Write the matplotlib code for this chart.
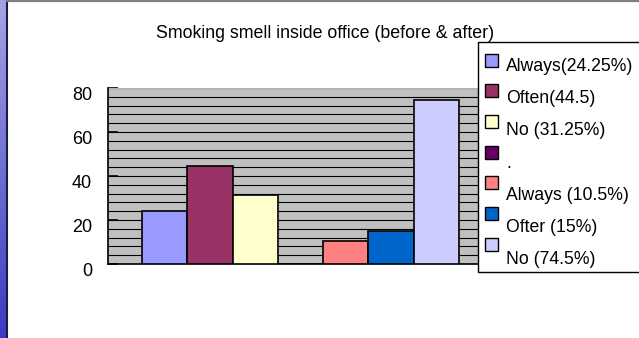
import numpy as np
import matplotlib
matplotlib.use('Agg')
import matplotlib.pyplot as plt
import matplotlib.transforms as mtransforms
from matplotlib.patches import Rectangle
from matplotlib.lines import Line2D

plt.rcParams['font.family'] = ['Liberation Sans', 'DejaVu Sans']

# Survey answers: before (first three) and after (last three), one spacer series
labels = ['Always(24.25%)', 'Often(44.5)', 'No (31.25%)', '.',
          'Always (10.5%)', 'Ofter (15%)', 'No (74.5%)']
values = [24.25, 44.5, 31.25, 0, 10.5, 15, 74.5]
colors = ['#9999FF', '#993366', '#FFFFCC', '#660066',
          '#FF8080', '#0066CC', '#CCCCFF']
yticks = [0, 20, 40, 60, 80]
title = 'Smoking smell inside office (before & after)'

W, H = 639, 338
fig = plt.figure(figsize=(W / 100, H / 100), dpi=100)


def fx(px):
    return px / W


def fy(py):
    return 1 - py / H


# slide decoration: blue gradient strip on the left, grey rule on top
strip = fig.add_axes([0, 0, fx(6), 1])
grad = np.linspace(0, 1, 256).reshape(-1, 1)
cmap = matplotlib.colors.LinearSegmentedColormap.from_list('strip', ['#A4A4E4', '#3A3AC2'])
strip.imshow(grad, aspect='auto', cmap=cmap, extent=[0, 1, 0, 1], origin='upper')
strip.axis('off')
fig.add_artist(Line2D([fx(6.5), fx(6.5)], [0, 1], color='#1c1c40', linewidth=1.5))
fig.add_artist(Line2D([fx(7), 1], [fy(1), fy(1)], color='#808080', linewidth=1.6))

# chart area
ax = fig.add_axes([fx(108), fy(264), fx(493) - fx(108), fy(88) - fy(264)])
ax.set_facecolor('#C0C0C0')
pos = np.arange(len(values)) - (len(values) - 1) / 2
ax.bar(pos, values, width=1.0, color=colors, edgecolor='black', linewidth=1.2, zorder=3)
ax.set_xlim(-4.25, 4.25)
ax.set_ylim(0, 80)
ax.set_xticks([])
ax.set_yticks(yticks)
ax.set_yticks(np.arange(0, 81, 4), minor=True)
ax.yaxis.grid(True, which='both', color='black', linewidth=0.8, zorder=1)
ax.set_axisbelow(True)
ax.tick_params(axis='y', which='major', direction='in', length=7, width=1.2,
               labelleft=False)
ax.tick_params(axis='y', which='minor', length=0)
for s in ['top', 'right']:
    ax.spines[s].set_visible(False)
ax.spines['left'].set_linewidth(1.2)
ax.spines['bottom'].set_linewidth(1.2)
ax.axhline(80, color='#d8d8d8', linewidth=1.2, zorder=2)

# y labels sit a little below their tick lines
lab_trans = mtransforms.offset_copy(
    mtransforms.blended_transform_factory(ax.transAxes, ax.transData),
    fig=fig, x=-16, y=-8, units='dots')
for v in yticks:
    ax.text(0, v, str(v), transform=lab_trans, ha='right', va='center', fontsize=13)

fig.text(fx(325), fy(33), title, ha='center', va='center', fontsize=12.8)

# legend box drawn by hand, running off the right edge
fig.add_artist(Rectangle((fx(478), fy(272)), fx(680) - fx(478), fy(42) - fy(272),
                         transform=fig.transFigure, facecolor='white',
                         edgecolor='black', linewidth=1, zorder=5))
for i, (lab, c) in enumerate(zip(labels, colors)):
    my = 60 + 30.7 * i
    ty = 66.5 + 32.2 * i
    fig.add_artist(Rectangle((fx(485), fy(my + 6.5)), fx(13), 13 / H,
                             transform=fig.transFigure, facecolor=c,
                             edgecolor='black', linewidth=1, zorder=6))
    fig.text(fx(506), fy(ty), lab, ha='left', va='center', fontsize=12.7, zorder=7)

fig.savefig('out.png', dpi=100)
